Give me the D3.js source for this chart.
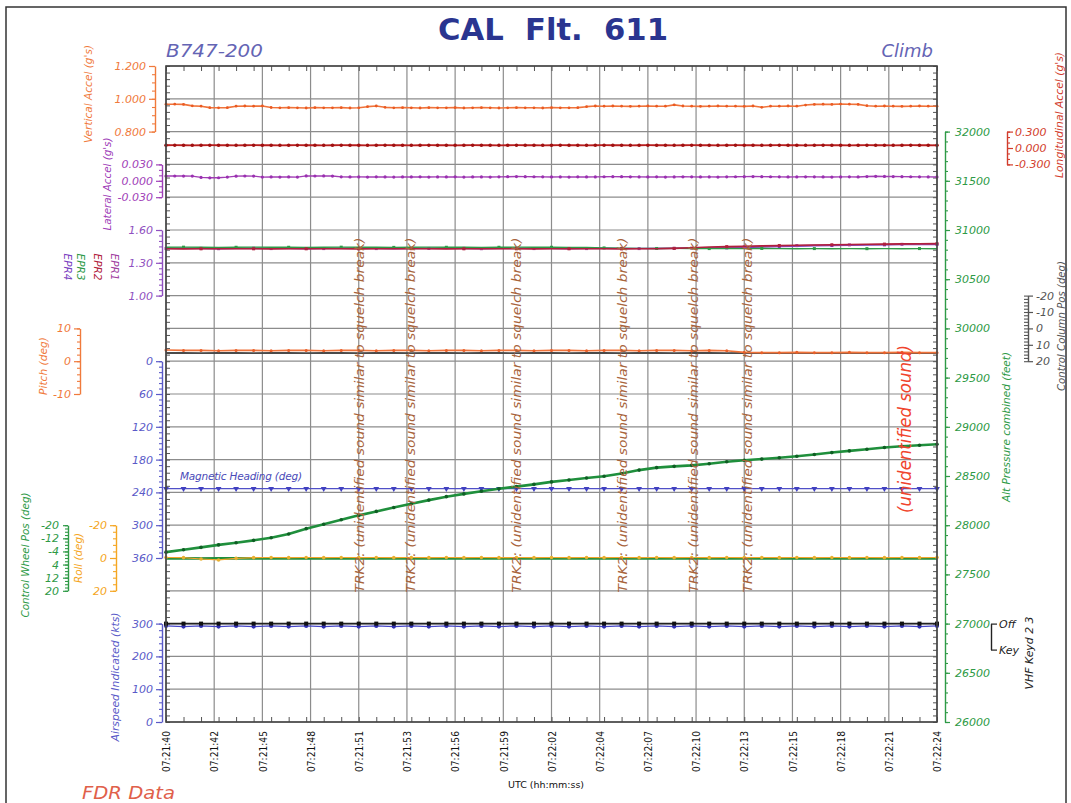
<!DOCTYPE html>
<html><head><meta charset="utf-8">
<script src="https://cdn.jsdelivr.net/npm/d3@7"></script>
<style>body{margin:0;background:#fff}svg{display:block}text{font-family:"DejaVu Sans",sans-serif}</style>
</head><body><svg id="c" width="1071" height="803"></svg>
<script>
// ---------- DATA ----------
const tickLabels = ["07:21:40","07:21:42","07:21:45","07:21:48","07:21:51","07:21:53","07:21:56","07:21:59","07:22:02","07:22:04","07:22:07","07:22:10","07:22:13","07:22:15","07:22:18","07:22:21","07:22:24"];
const tickSeconds = [0,2.75,5.5,8.25,11,13.75,16.5,19.25,22,24.75,27.5,30.25,33,35.75,38.5,41.25,44];

// 2 Hz series (07:21:40 .. 07:22:24)
const vertAccel = [0.967,0.967,0.966,0.957,0.955,0.946,0.945,0.946,0.955,0.956,0.955,0.956,0.947,0.945,0.946,0.945,0.944,0.946,0.945,0.945,0.946,0.944,0.945,0.952,0.956,0.948,0.945,0.946,0.945,0.944,0.946,0.945,0.945,0.946,0.944,0.945,0.946,0.945,0.944,0.945,0.946,0.945,0.945,0.944,0.946,0.945,0.945,0.946,0.952,0.956,0.955,0.956,0.955,0.954,0.955,0.956,0.955,0.955,0.963,0.956,0.955,0.954,0.955,0.956,0.955,0.955,0.954,0.956,0.948,0.955,0.955,0.956,0.955,0.962,0.966,0.967,0.966,0.968,0.967,0.966,0.958,0.955,0.956,0.955,0.954,0.955,0.956,0.955,0.955];
const longAccel = [0.050,0.051,0.050,0.049,0.050,0.051,0.050,0.050,0.049,0.050,0.051,0.050,0.050,0.049,0.050,0.051,0.050,0.050,0.049,0.050,0.051,0.050,0.050,0.049,0.050,0.051,0.050,0.050,0.049,0.050,0.051,0.050,0.050,0.049,0.050,0.051,0.050,0.050,0.049,0.050,0.051,0.050,0.050,0.049,0.050,0.051,0.050,0.050,0.049,0.050,0.051,0.050,0.050,0.049,0.050,0.051,0.050,0.050,0.049,0.050,0.051,0.050,0.050,0.049,0.050,0.051,0.050,0.050,0.049,0.050,0.051,0.050,0.050,0.049,0.050,0.051,0.050,0.050,0.049,0.050,0.051,0.050,0.050,0.049,0.050,0.051,0.050,0.050,0.049];
const latAccel = [0.0088,0.0088,0.0087,0.0086,0.0062,0.0055,0.0056,0.0068,0.0085,0.0088,0.0086,0.0068,0.0070,0.0069,0.0070,0.0068,0.0090,0.0088,0.0089,0.0087,0.0072,0.0070,0.0071,0.0069,0.0072,0.0070,0.0068,0.0071,0.0070,0.0072,0.0069,0.0071,0.0070,0.0072,0.0068,0.0070,0.0071,0.0069,0.0072,0.0075,0.0078,0.0076,0.0074,0.0072,0.0070,0.0071,0.0069,0.0072,0.0070,0.0071,0.0074,0.0076,0.0075,0.0073,0.0071,0.0070,0.0072,0.0069,0.0071,0.0073,0.0072,0.0070,0.0071,0.0069,0.0072,0.0074,0.0076,0.0078,0.0076,0.0074,0.0072,0.0070,0.0071,0.0073,0.0072,0.0070,0.0069,0.0071,0.0072,0.0070,0.0078,0.0082,0.0080,0.0078,0.0076,0.0074,0.0072,0.0071,0.0070];

// 1 Hz series
const epr1 = [1.430,1.431,1.430,1.429,1.430,1.431,1.430,1.430,1.429,1.430,1.431,1.430,1.430,1.429,1.430,1.431,1.430,1.430,1.429,1.430,1.431,1.430,1.430,1.429,1.430,1.431,1.430,1.430,1.432,1.433,1.434,1.438,1.442,1.446,1.450,1.454,1.457,1.460,1.462,1.464,1.466,1.468,1.469,1.470,1.471];
const epr2 = [1.428,1.427,1.428,1.428,1.429,1.428,1.427,1.428,1.428,1.429,1.428,1.427,1.428,1.428,1.429,1.428,1.427,1.428,1.428,1.429,1.428,1.427,1.428,1.428,1.429,1.428,1.427,1.428,1.429,1.432,1.438,1.444,1.448,1.452,1.455,1.458,1.461,1.463,1.465,1.467,1.469,1.471,1.473,1.474,1.475];
const epr3 = [1.442,1.443,1.442,1.441,1.442,1.443,1.442,1.442,1.441,1.442,1.443,1.442,1.442,1.441,1.442,1.443,1.442,1.442,1.441,1.442,1.443,1.442,1.442,1.441,1.440,1.436,1.433,1.432,1.431,1.432,1.431,1.430,1.431,1.430,1.431,1.430,1.429,1.430,1.429,1.430,1.429,1.430,1.429,1.430,1.429];
const epr4 = [1.432,1.433,1.432,1.431,1.432,1.433,1.432,1.432,1.431,1.432,1.433,1.432,1.432,1.431,1.432,1.433,1.432,1.432,1.431,1.432,1.433,1.432,1.432,1.431,1.432,1.433,1.432,1.432,1.431,1.432,1.433,1.434,1.436,1.440,1.444,1.448,1.452,1.455,1.458,1.460,1.462,1.464,1.466,1.467,1.468];
const pitch = [3.4,3.3,3.3,3.2,3.3,3.3,3.2,3.3,3.3,3.2,3.3,3.3,3.2,3.3,3.3,3.2,3.3,3.3,3.2,3.3,3.3,3.2,3.3,3.3,3.2,3.3,3.3,3.2,3.3,3.3,3.2,3.3,3.2,2.7,2.6,2.6,2.7,2.6,2.6,2.7,2.6,2.6,2.7,2.6,2.6];
const ctrlColumn = [15.0,15.0,15.1,15.0,15.0,15.1,15.0,15.0,15.1,15.0,15.0,15.1,15.0,15.0,15.1,15.0,15.0,15.1,15.0,15.0,15.1,15.0,15.0,15.1,15.0,15.0,15.1,15.0,15.0,15.1,15.0,15.0,15.1,15.0,15.0,15.1,15.0,15.0,15.1,15.0,15.0,15.1,15.0,15.0,15.1];
const heading = [233,233,233,233.2,233,233,233,233.2,233,233,233,233.2,233,233,233,233.2,233,233,233,233.2,233,233,233,233.2,233,233,233,233.2,233,233,233,233.2,233,233,233,233.2,233,233,233,233.2,233,233,233,233.2,233];
const altitude = [27726,27750,27775,27800,27822,27846,27872,27910,27965,28010,28055,28100,28140,28180,28218,28255,28290,28318,28345,28370,28392,28415,28440,28460,28480,28498,28525,28560,28585,28598,28608,28625,28645,28660,28672,28685,28700,28718,28738,28755,28772,28790,28802,28812,28822];
const roll = [-0.3,-0.2,0.6,1.2,0.2,-0.2,-0.3,-0.2,-0.3,-0.2,-0.3,-0.2,-0.3,-0.2,-0.3,-0.2,-0.3,-0.2,-0.3,-0.2,-0.3,-0.2,-0.3,-0.2,-0.3,-0.2,-0.3,-0.2,-0.3,-0.2,-0.3,-0.2,-0.3,-0.2,-0.3,-0.2,-0.3,-0.2,-0.3,-0.2,-0.3,-0.2,-0.3,-0.2,-0.3];
const ctrlWheel = [0.2,0.2,0.3,0.2,0.2,0.2,0.3,0.2,0.2,0.2,0.3,0.2,0.2,0.2,0.3,0.2,0.2,0.2,0.3,0.2,0.2,0.2,0.3,0.2,0.2,0.2,0.3,0.2,0.2,0.2,0.3,0.2,0.2,0.2,0.3,0.2,0.2,0.2,0.3,0.2,0.2,0.2,0.3,0.2,0.2];
const airspeed = [293,291,293,291,293,291,293,291,293,291,293,291,293,291,293,291,293,291,293,291,293,291,293,291,293,291,293,291,293,291,293,291,293,291,293,291,293,291,293,291,293,291,293,291,293];
const vhfKey = [0,0,0,0,0,0,0,0,0,0,0,0,0,0,0,0,0,0,0,0,0,0,0,0,0,0,0,0,0,0,0,0,0,0,0,0,0,0,0,0,0,0,0,0,0];

// tick values for the axes
const vertAccelTicks = [0.8,1.0,1.2];
const latAccelTicks = [-0.03,0,0.03];
const eprTicks = [1.0,1.3,1.6];
const pitchTicks = [-10,0,10];
const headingTicks = [0,60,120,180,240,300,360];
const wheelTicks = [-20,-12,-4,4,12,20];
const rollTicks = [-20,0,20];
const airspeedTicks = [0,100,200,300];
const altTicks = [26000,26500,27000,27500,28000,28500,29000,29500,30000,30500,31000,31500,32000];
const longAccelTicks = [-0.3,0,0.3];
const columnTicks = [-20,-10,0,10,20];
const vhfTicks = [0,1];
const vhfLabels = ["Off","Key"];

const annotationText = "TRK2: (unidentified sound similar to squelch break)";
const annotationTimes = [11.07, 13.98, 19.98, 26.03, 30.08, 33.16];
const soundText = "(unidentified sound)";
const soundTime = 42.2;

// ---------- LAYOUT ----------
const svg = d3.select("#c");
const PL=166, PR=937, PT=66, PB=722;
const x = d3.scaleLinear().domain([0,44]).range([PL,PR]);
const row = d3.scaleLinear().domain([0,20]).range([PT,PB]);

const C = {
  orange:"#f0733a", dred:"#b81e1e", purple:"#a03cb4", blue:"#5050c8", green:"#1f8f3c",
  roll:"#f2a42a", brown:"#a8643c", red:"#f0442c", gray:"#555555"
};

svg.append("rect").attr("x",6).attr("y",7).attr("width",1060).attr("height",810)
  .attr("fill","none").attr("stroke","#333").attr("stroke-width",1.5);

// grid
const grid = svg.append("g").attr("stroke","#8c8c8c").attr("stroke-width",1.2);
grid.selectAll("line.h").data(d3.range(21)).join("line").attr("class","h")
  .attr("x1",PL).attr("x2",PR).attr("y1",d=>row(d)).attr("y2",d=>row(d));
grid.selectAll("line.v").data(tickSeconds).join("line").attr("class","v")
  .attr("x1",d=>x(d)).attr("x2",d=>x(d)).attr("y1",PT).attr("y2",PB);

// inner tick marks on frame
const rowFine = d3.scaleLinear().domain([0,100]).range([PB,PT]);
function noLabels(g){ g.select(".domain").remove(); g.selectAll("text").remove(); g.selectAll("line").attr("stroke","#555"); }
svg.append("g").attr("transform",`translate(0,${PB})`).call(d3.axisBottom(x).tickValues(d3.range(0,45)).tickSize(-5)).call(noLabels);
svg.append("g").attr("transform",`translate(0,${PT})`).call(d3.axisTop(x).tickValues(d3.range(0,45)).tickSize(-5)).call(noLabels);
svg.append("g").attr("transform",`translate(${PL},0)`).call(d3.axisLeft(rowFine).tickValues(d3.range(0,101)).tickSize(-4)).call(noLabels);
svg.append("g").attr("transform",`translate(${PR},0)`).call(d3.axisRight(rowFine).tickValues(d3.range(0,101)).tickSize(-4)).call(noLabels);

// scales
const vaY = d3.scaleLinear().domain([0.8,1.2]).range([row(2),row(0)]);
const loY = d3.scaleLinear().domain([-0.3,0.3]).range([row(3),row(2)]);
const laY = d3.scaleLinear().domain([-0.03,0.03]).range([row(4),row(3)]);
const eprY = d3.scaleLinear().domain([1.0,1.6]).range([row(7),row(5)]);
const ccY = d3.scaleLinear().domain([-20,20]).range([row(7),row(9)]);
const pitchY = d3.scaleLinear().domain([-10,10]).range([row(10),row(8)]);
const hdgY = d3.scaleLinear().domain([0,360]).range([row(9),row(15)]);
const rollY = d3.scaleLinear().domain([-20,20]).range([row(14),row(16)]);
const cwY = d3.scaleLinear().domain([-20,20]).range([row(14),row(16)]);
const spdY = d3.scaleLinear().domain([0,300]).range([row(20),row(17)]);
const altY = d3.scaleLinear().domain([26000,32000]).range([row(20),row(2)]);
const vhfY = d3.scaleLinear().domain([0,1]).range([row(17),row(17)+26]);

// ---------- SERIES ----------
function drawSeries(vals, yS, color, o={}) {
  const dt = 44/(vals.length-1);
  const data = vals.map((v,i)=>({t:i*dt, v}));
  const g = svg.append("g");
  g.append("path").datum(data).attr("fill","none").attr("stroke",color)
    .attr("stroke-width",o.w||1.3).attr("stroke-linejoin","round")
    .attr("d", d3.line().x(d=>x(d.t)).y(d=>yS(d.v)));
  if (o.marker) {
    const mc = o.mc||color, ms = o.ms||1.6;
    const pts = data.filter((d,i)=> i % (o.every||1) === (o.offset||0));
    if (o.marker==="circle") {
      g.selectAll("circle").data(pts).join("circle").attr("cx",d=>x(d.t)).attr("cy",d=>yS(d.v)).attr("r",ms).attr("fill",mc);
    } else if (o.marker==="square") {
      g.selectAll("rect").data(pts).join("rect").attr("x",d=>x(d.t)-ms).attr("y",d=>yS(d.v)-ms)
        .attr("width",2*ms).attr("height",2*ms).attr("fill",mc);
    } else if (o.marker==="tri") {
      const sym = d3.symbol(d3.symbolTriangle, ms*ms*4);
      g.selectAll("path.m").data(pts).join("path").attr("class","m").attr("d",sym)
        .attr("transform",d=>`translate(${x(d.t)},${yS(d.v)}) rotate(180)`).attr("fill",mc);
    }
  }
}

drawSeries(vertAccel, vaY, C.orange, {w:1.6, marker:"circle", ms:1.4, mc:"#ea5a22"});
drawSeries(longAccel, loY, C.dred, {w:1.8, marker:"circle", ms:1.8, mc:"#a01010"});
drawSeries(latAccel, laY, C.purple, {w:1.4, marker:"circle", ms:1.6, mc:"#9a30b0"});
drawSeries(ctrlColumn, ccY, "#4a4a4a", {w:1.8});
drawSeries(pitch, pitchY, C.orange, {w:1.6, marker:"circle", ms:1.5, mc:"#e8602a"});
drawSeries(epr4, eprY, "#7a40c0", {w:1.4, marker:"square", ms:1.5, every:3, offset:2});
drawSeries(epr1, eprY, "#a040a0", {w:1.4, marker:"square", ms:1.5, every:3, offset:0});
drawSeries(epr3, eprY, "#2e9a48", {w:1.4, marker:"square", ms:1.5, every:3, offset:1});
drawSeries(epr2, eprY, "#b0203c", {w:1.6, marker:"square", ms:1.5, every:3, offset:2});
drawSeries(heading, hdgY, C.blue, {w:1.3, marker:"tri", ms:1.9, mc:"#4040c0"});
drawSeries(ctrlWheel, cwY, C.green, {w:2.6});
drawSeries(roll, rollY, C.roll, {w:1.2, marker:"circle", ms:1.8, mc:"#e8b030"});
drawSeries(altitude, altY, C.green, {w:2.6, marker:"circle", ms:1.8, mc:"#0f5e24"});
drawSeries(airspeed, spdY, "#4646c8", {w:1.3, marker:"circle", ms:2.1, mc:"#3030b0"});
drawSeries(vhfKey, vhfY, "#222", {w:1.6, marker:"square", ms:2, mc:"#111"});

svg.append("text").attr("x",180).attr("y",480).attr("font-size",10.5).attr("font-style","italic")
  .attr("fill","#4a4ab8").attr("textLength",122).text("Magnetic Heading (deg)");

// ---------- AXES ----------
function styleAxis(g, color, fs) {
  g.select(".domain").attr("stroke",color).attr("stroke-width",1.4);
  g.selectAll(".tick line").attr("stroke",color).attr("stroke-width",1.2);
  g.selectAll(".tick text").attr("fill",color).attr("font-size",fs||11).attr("font-style","italic")
    .attr("font-family","DejaVu Sans, sans-serif");
}
function axis(side, xPos, scale, major, minor, fmt, color, o={}) {
  const mk = side==="left" ? d3.axisLeft : d3.axisRight;
  if (minor) {
    const gm = svg.append("g").attr("transform",`translate(${xPos},0)`)
      .call(mk(scale).tickValues(minor).tickSize(o.minorSize||3).tickFormat(""));
    gm.select(".domain").remove(); gm.selectAll("line").attr("stroke",color).attr("stroke-width",1.1);
    if (o.minorFlip) gm.selectAll("line").attr("x2", side==="left" ? (o.minorSize||3) : -(o.minorSize||3));
  }
  const g = svg.append("g").attr("transform",`translate(${xPos},0)`)
    .call(mk(scale).tickValues(major).tickSize(o.size||6).tickSizeOuter(0).tickPadding(o.pad||3).tickFormat(fmt));
  styleAxis(g, color, o.fs);
  return g;
}
const fix = n => v => v.toFixed(n);

axis("left",155,vaY,vertAccelTicks,d3.range(0.8,1.2001,0.05),fix(3),"#f07a3c");
axis("left",162,laY,latAccelTicks,d3.range(-0.03,0.0301,0.01),fix(3),"#a040b8");
axis("left",162,eprY,eprTicks,d3.range(1.0,1.6001,0.05),fix(2),"#9050c0");
axis("left",80,pitchY,pitchTicks,d3.range(-10,10.01,2),d=>String(d),"#f07a3c");
axis("left",162,hdgY,headingTicks,d3.range(0,361,10),d=>String(d),"#5a5ac8");
axis("left",68,cwY,wheelTicks,d3.range(-20,20.01,2),d=>String(d),"#2e9a46",{size:5,pad:4});
axis("left",116,rollY,rollTicks,d3.range(-20,20.01,4),d=>String(d),"#f5a623");
axis("left",162,spdY,airspeedTicks,d3.range(0,301,20),d=>String(d),"#5a5ac8");
axis("right",945,altY,altTicks,d3.range(26000,32001,100),d=>String(d),"#2e9a46",{size:5,pad:5});
axis("right",1007,loY,longAccelTicks,d3.range(-0.3,0.301,0.1),fix(3),"#d23c2c",{size:6,pad:2});
axis("right",1028,ccY,columnTicks,d3.range(-20,20.01,2),d=>String(d),"#555",{size:5,pad:3,minorFlip:true,minorSize:4});
axis("right",991,vhfY,vhfTicks,null,(d,i)=>vhfLabels[i],"#222",{size:6,pad:2});

// x tick labels
const xg = svg.append("g").attr("transform",`translate(0,${PB})`)
  .call(d3.axisBottom(x).tickValues(tickSeconds).tickSize(0).tickFormat((d,i)=>tickLabels[i]));
xg.select(".domain").remove();
xg.selectAll(".tick text").attr("transform","rotate(-90)").attr("text-anchor","end")
  .attr("x",-9).attr("y",0).attr("dy","0.35em").attr("font-size",10.5)
  .attr("font-family","Liberation Sans, Arial, sans-serif").attr("fill","#111")
  .attr("textLength",41).attr("lengthAdjust","spacingAndGlyphs");

svg.append("text").attr("x",546).attr("y",788).attr("text-anchor","middle").attr("font-size",9.5)
  .attr("font-family","Liberation Sans, Arial, sans-serif").attr("fill","#111").text("UTC (hh:mm:ss)");

// ---------- LABELS ----------
function vlabel(txt, cx, cy, color, size, len, rot) {
  svg.append("text").attr("transform",`translate(${cx},${cy}) rotate(${rot||-90})`)
    .attr("text-anchor","middle").attr("dominant-baseline","central")
    .attr("font-style","italic").attr("font-size",size).attr("fill",color)
    .attr("textLength",len).attr("lengthAdjust","spacingAndGlyphs").text(txt);
}
vlabel("Vertical Accel (g's)", 88, 94, "#f07a3c", 10.5, 98);
vlabel("Lateral Accel (g's)", 107, 184, "#a040b8", 10.5, 93);
vlabel("EPR4", 68, 267, "#7a40c0", 10.5, 27, 90);
vlabel("EPR3", 81, 267, "#2e9a48", 10.5, 27, 90);
vlabel("EPR2", 98, 267, "#b0203c", 10.5, 27, 90);
vlabel("EPR1", 115, 267, "#a040a0", 10.5, 27, 90);
vlabel("Pitch (deg)", 43, 366, "#f07a3c", 10.5, 58);
vlabel("Control Wheel Pos (deg)", 25, 555, "#2e9a46", 10.5, 125);
vlabel("Roll (deg)", 78, 558, "#f5a623", 10.5, 50);
vlabel("Airspeed Indicated (kts)", 115, 677, "#5a5ac8", 10.5, 129);
vlabel("Alt Pressure combined (feet)", 1006, 427, "#2e9a46", 10.5, 150);
vlabel("Longitudinal Accel (g's)", 1059, 115, "#d23c2c", 10.5, 126);
vlabel("Control Column Pos (deg)", 1061, 326, "#555", 10.5, 130);
vlabel("VHF Keyd 2 3", 1029, 653, "#222", 10.5, 73);

// annotations
annotationTimes.forEach(t => vlabel(annotationText, x(t), 415, C.brown, 13, 355));
vlabel(soundText, x(soundTime), 429, C.red, 17, 168);

// titles
svg.append("text").attr("x",438).attr("y",40).attr("font-size",30).attr("font-weight","bold")
  .attr("fill","#2a3590").attr("textLength",230).attr("lengthAdjust","spacingAndGlyphs")
  .style("white-space","pre").attr("font-family","DejaVu Sans, sans-serif").text("CAL  Flt.  611");
svg.append("text").attr("x",166).attr("y",57).attr("font-size",18).attr("font-style","italic")
  .attr("fill","#6464b4").attr("textLength",97).attr("lengthAdjust","spacingAndGlyphs").text("B747-200");
svg.append("text").attr("x",933).attr("y",57).attr("font-size",18).attr("font-style","italic")
  .attr("text-anchor","end").attr("fill","#6464b4").text("Climb");
svg.append("text").attr("x",82).attr("y",799).attr("font-size",18).attr("font-style","italic")
  .attr("fill","#e0604a").attr("textLength",93).attr("lengthAdjust","spacingAndGlyphs").text("FDR Data");

// plot frame
svg.append("rect").attr("x",PL).attr("y",PT).attr("width",PR-PL).attr("height",PB-PT)
  .attr("fill","none").attr("stroke","#444").attr("stroke-width",1.6);
</script></body></html>
